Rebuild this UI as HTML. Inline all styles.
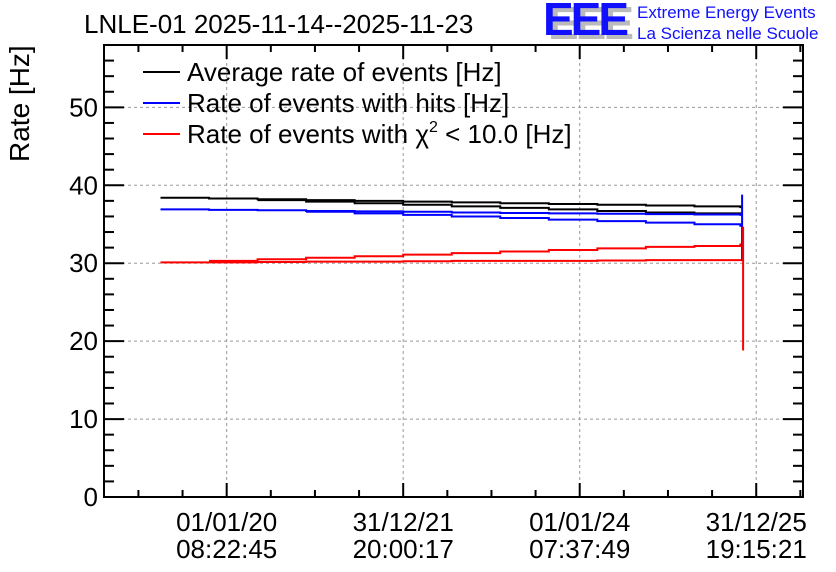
<!DOCTYPE html>
<html><head><meta charset="utf-8"><style>
html,body{margin:0;padding:0;background:#fff;}
svg{display:block;font-family:"Liberation Sans",sans-serif;}
</style></head><body>
<svg id="chart" width="836" height="572" viewBox="0 0 836 572">
<text x="84" y="33" font-size="26">LNLE-01 2025-11-14--2025-11-23</text>
<g>
<text x="548" y="39" font-size="46" fill="#bbb" font-weight="bold" letter-spacing="-3">EEE</text>
<text x="543" y="35" font-size="46" fill="#1010ff" font-weight="bold" letter-spacing="-3">EEE</text>
</g>
<text x="637" y="18" font-size="17" fill="#1010ff">Extreme Energy Events</text>
<text x="637" y="39" font-size="17" fill="#1010ff">La Scienza nelle Scuole</text>
<text transform="translate(29,162) rotate(-90)" text-anchor="start" font-size="28">Rate [Hz]</text>
<g id="grid"></g><g id="axes"></g><g id="series"></g>
<g>
<line x1="143" y1="72" x2="180" y2="72" stroke="#000" stroke-width="2"/>
<text x="187" y="81" font-size="26">Average rate of events [Hz]</text>
<line x1="143" y1="103" x2="180" y2="103" stroke="#00f" stroke-width="2"/>
<text x="187" y="112" font-size="26">Rate of events with hits [Hz]</text>
<line x1="143" y1="134" x2="180" y2="134" stroke="#f00" stroke-width="2"/>
<text x="187" y="143" font-size="26">Rate of events with χ<tspan font-size="16" dy="-11">2</tspan><tspan dy="11"> &lt; 10.0 [Hz]</tspan></text>
</g>
</svg>
<script>
const yTicks=[0,10,20,30,40,50];
const xTickTimes=[2020.0,2022.0,2024.0,2026.0];
const xTickLabels1=["01/01/20","31/12/21","01/01/24","31/12/25"];
const xTickLabels2=["08:22:45","20:00:17","07:37:49","19:15:21"];
const stepTimes=[2019.25,2019.8,2020.35,2020.9,2021.45,2022.0,2022.55,2023.1,2023.65,2024.2,2024.75,2025.3,2025.82];
const blackUpper=[38.4,38.3,38.2,38.1,38.0,37.9,37.8,37.7,37.6,37.5,37.4,37.3,37.2];
const blackLower=[38.1,37.9,37.7,37.5,37.3,37.1,36.9,36.7,36.5,36.4,36.3];
const blueUpper=[36.9,36.85,36.8,36.7,36.65,36.6,36.5,36.45,36.4,36.35,36.3,36.25,36.2];
const blueLower=[36.6,36.4,36.2,36.0,35.8,35.6,35.4,35.2,35.0,34.8];
const redLower=[30.1,30.1,30.15,30.2,30.2,30.25,30.3,30.3,30.3,30.35,30.4,30.4,30.4];
const redUpper=[30.3,30.5,30.7,30.9,31.1,31.3,31.5,31.7,31.9,32.1,32.2,32.4];
const blueSpike=[38.8,34.5,30.3];
const redSpike=[34.7,18.8];
const spikeTime=2025.84;

const L=104,R=803,T=45,B=497,yMax=58,t0=2018.61,t1=2026.53;
const X=t=>L+(t-t0)/(t1-t0)*(R-L);
const Y=v=>B-v/yMax*(B-T);
const NS="http://www.w3.org/2000/svg";
function mk(tag,attrs,parent){const e=document.createElementNS(NS,tag);for(const k in attrs)e.setAttribute(k,attrs[k]);parent.appendChild(e);return e;}
const grid=document.getElementById('grid'),axes=document.getElementById('axes'),series=document.getElementById('series');
yTicks.forEach((v,i)=>{
 if(v>0){const g=mk('line',{x1:L,x2:R,y1:Y(v),y2:Y(v),stroke:'#999','stroke-dasharray':'3,3'},grid);
 
 }
 const t=mk('text',{x:98,y:Y(v)+9,'text-anchor':'end','font-size':26},axes);t.textContent=v;
 
 
});
for(let v=0;v<=yMax;v+=2){const len=v%10===0?20:10;
 mk('line',{x1:L,x2:L+len,y1:Y(v),y2:Y(v),stroke:'#000','stroke-width':2},axes);
 mk('line',{x1:R-len,x2:R,y1:Y(v),y2:Y(v),stroke:'#000','stroke-width':2},axes);}
xTickTimes.forEach((t,i)=>{
 const g=mk('line',{x1:X(t),x2:X(t),y1:T,y2:B,stroke:'#999','stroke-dasharray':'3,3'},grid);
 
 
 const a=mk('text',{x:X(t),y:531,'text-anchor':'middle','font-size':26},axes);a.textContent=xTickLabels1[i];
 
 
 const b=mk('text',{x:X(t),y:558,'text-anchor':'middle','font-size':26},axes);b.textContent=xTickLabels2[i];
 
 
});
for(let t=2018.5;t<=t1;t+=0.5){if(t<t0)continue;const major=Math.abs(t/2-Math.round(t/2))<1e-6;const len=major?14:7;
 mk('line',{x1:X(t),x2:X(t),y1:B-len,y2:B,stroke:'#000','stroke-width':2},axes);
 mk('line',{x1:X(t),x2:X(t),y1:T,y2:T+len,stroke:'#000','stroke-width':2},axes);}
const fr=mk('rect',{x:L,y:T,width:R-L,height:B-T,fill:'none',stroke:'#000','stroke-width':2},axes);


function step(vals,offset,color,name){
 let d='';vals.forEach((v,i)=>{const ta=stepTimes[i+offset],tb=i+offset+1<stepTimes.length?stepTimes[i+offset+1]:spikeTime;
  d+=(i===0?'M':'L')+X(ta)+','+Y(v)+'L'+X(tb)+','+Y(v);});
 const p=mk('path',{d:d,fill:'none',stroke:color,'stroke-width':2},series);
 
 
}
step(blackUpper,0,'#000','average-rate-upper');
step(blackLower,2,'#000','average-rate-lower');
step(blueUpper,0,'#00f','hits-rate-upper');
step(blueLower,3,'#00f','hits-rate-lower');
step(redLower,0,'#f00','chi2-rate-lower');
step(redUpper,1,'#f00','chi2-rate-upper');
function spike(vals,color,dx,name){
 const d='M'+vals.map(v=>(X(spikeTime)+dx)+','+Y(v)).join('L');
 const p=mk('path',{d:d,fill:'none',stroke:color,'stroke-width':2},series);
 
 
}
spike(blueSpike,'#00f',0,'hits-rate-spike');
spike(redSpike,'#f00',1,'chi2-rate-spike');
</script>
</body></html>
